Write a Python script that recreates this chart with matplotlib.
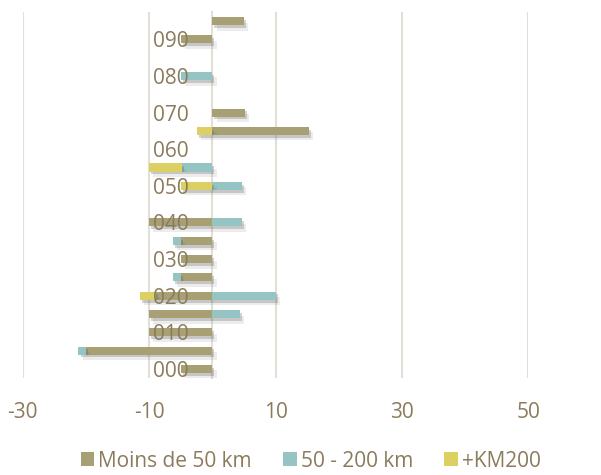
"""Stacked horizontal bars by distance band."""

import matplotlib

matplotlib.use("Agg")

import matplotlib.patheffects as pe
import matplotlib.pyplot as plt
import numpy as np
from matplotlib.patches import Patch

CATEGORIES = [f"{i * 5:03d}" for i in range(20)]
MOINS_50 = [-5, -20, -10, -10, -9, -5, -5, -5, -10, 0, 0, 0, 0, 15.3, 5.1, 0, 0, 0, -5, 5]
KM_50_200 = [0, -1.2, 0, 4.4, 10, -1.2, 0, -1.2, 4.7, 0, 4.7, -4.8, 0, 0, 0, 0, -5, 0, 0, 0]
KM_200 = [0, 0, 0, 0, -2.5, 0, 0, 0, 0, 0, -5, -5.2, 0, -2.5, 0, 0, 0, 0, 0, 0]
SERIES = [
    ("Moins de 50 km", MOINS_50, "#A6A074"),
    ("50 - 200 km", KM_50_200, "#95C4C3"),
    ("+KM200", KM_200, "#DCD063"),
]
X_TICKS = [-30, -10, 10, 30, 50]

TEXT_COLOR = "#8B7B5B"
GRID_COLOR = "#E4DFD6"
FONT_SIZE = 15

plt.rcParams["font.family"] = ["Open Sans", "DejaVu Sans"]

fig = plt.figure(figsize=(6.01, 4.75), dpi=100)
axis = fig.add_axes([0.038, 0.204, 0.841, 0.771])

y_positions = np.arange(len(CATEGORIES))
pos_base = np.zeros(len(CATEGORIES))
neg_base = np.zeros(len(CATEGORIES))
shadow = [
    pe.SimplePatchShadow(offset=(3, -4), shadow_rgbFace="#666666", alpha=0.12),
    pe.SimplePatchShadow(offset=(1.5, -2), shadow_rgbFace="#555555", alpha=0.25),
    pe.Normal(),
]
handles = []
for label, values, color in SERIES:
    values = np.asarray(values, dtype=float)
    left = np.where(values >= 0, pos_base, neg_base)
    bars = axis.barh(
        y_positions, values, left=left, height=0.44, color=color,
        zorder=2, linewidth=0,
    )
    for bar in bars:
        bar.set_path_effects(shadow)
    pos_base += np.where(values > 0, values, 0)
    neg_base += np.where(values < 0, values, 0)
    handles.append(Patch(facecolor=color, linewidth=0, label=label))

axis.set_xlim(-30, 50)
axis.set_ylim(-0.5, len(CATEGORIES) - 0.5)
axis.set_xticks(X_TICKS)
axis.set_xticklabels([str(v) for v in X_TICKS])
axis.set_yticks(y_positions[::2])
axis.set_yticklabels(CATEGORIES[::2])
axis.tick_params(axis="both", length=0, labelsize=FONT_SIZE, labelcolor=TEXT_COLOR)
axis.tick_params(axis="x", pad=17)
axis.tick_params(axis="y", pad=17)

axis.grid(axis="x", color=GRID_COLOR, linewidth=1.5)
axis.xaxis.set_zorder(0.5)
axis.yaxis.set_zorder(3)

for side in ("top", "right", "bottom"):
    axis.spines[side].set_visible(False)
axis.spines["left"].set_position(("data", 0))
axis.spines["left"].set_color(GRID_COLOR)
axis.spines["left"].set_linewidth(1.5)
axis.spines["left"].set_zorder(1)

fig.legend(
    handles=handles, loc="center", bbox_to_anchor=(0.517, 0.029), ncol=3,
    frameon=False, fontsize=FONT_SIZE, labelcolor=TEXT_COLOR,
    handlelength=0.65, handleheight=0.65, handletextpad=0.2,
    columnspacing=1.5, borderaxespad=0,
)

fig.savefig("out.png", dpi=100)
plt.close(fig)
